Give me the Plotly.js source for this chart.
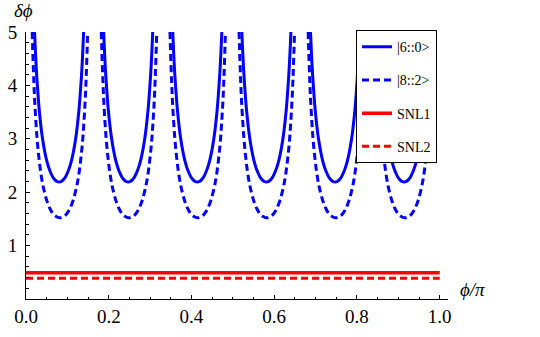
<!DOCTYPE html>
<html>
<head>
<meta charset="utf-8">
<script src="https://cdn.plot.ly/plotly-3.0.1.min.js"></script>
<style>
  html, body { margin: 0; padding: 0; background: #fff; }
  #plotDelta { width: 540px; height: 337px; }
</style>
</head>
<body>
<div id="plotDelta"></div>
<script>
// |6::0> : one U per lobe, lobes split by null (the curve leaves the plot above 5)
const phi60 = [
  0.0207, 0.022, 0.024, 0.026, 0.029, 0.032, 0.036, 0.040, 0.045, 0.050, 0.055, 0.060, 0.065, 0.070, 0.075, 0.080,
  0.085, 0.090, 0.095, 0.100, 0.105, 0.110, 0.115, 0.120, 0.124, 0.128, 0.131, 0.134, 0.136, 0.138, 0.1393, null,
  0.1877, 0.189, 0.191, 0.193, 0.196, 0.199, 0.203, 0.207, 0.212, 0.217, 0.222, 0.227, 0.232, 0.237, 0.242, 0.247,
  0.252, 0.257, 0.262, 0.267, 0.272, 0.277, 0.282, 0.287, 0.291, 0.295, 0.298, 0.301, 0.303, 0.305, 0.3063, null,
  0.3547, 0.356, 0.358, 0.360, 0.363, 0.366, 0.370, 0.374, 0.379, 0.384, 0.389, 0.394, 0.399, 0.404, 0.409, 0.414,
  0.419, 0.424, 0.429, 0.434, 0.439, 0.444, 0.449, 0.454, 0.458, 0.462, 0.465, 0.468, 0.470, 0.472, 0.4733, null,
  0.5217, 0.523, 0.525, 0.527, 0.530, 0.533, 0.537, 0.541, 0.546, 0.551, 0.556, 0.561, 0.566, 0.571, 0.576, 0.581,
  0.586, 0.591, 0.596, 0.601, 0.606, 0.611, 0.616, 0.621, 0.625, 0.629, 0.632, 0.635, 0.637, 0.639, 0.6403, null,
  0.6877, 0.689, 0.691, 0.693, 0.696, 0.699, 0.703, 0.707, 0.712, 0.717, 0.722, 0.727, 0.732, 0.737, 0.742, 0.747,
  0.752, 0.757, 0.762, 0.767, 0.772, 0.777, 0.782, 0.787, 0.791, 0.795, 0.798, 0.801, 0.803, 0.805, 0.8063, null,
  0.8547, 0.856, 0.858, 0.860, 0.863, 0.866, 0.870, 0.874, 0.879, 0.884, 0.889, 0.894, 0.899, 0.904, 0.909, 0.914,
  0.919, 0.924, 0.929, 0.934, 0.939, 0.944, 0.949, 0.954, 0.958, 0.962, 0.965, 0.968, 0.970, 0.972, 0.9733
];
const dphi60 = [
  5.0, 4.77, 4.44, 4.17, 3.83, 3.54, 3.24, 3.0, 2.77, 2.59, 2.46, 2.36, 2.28, 2.23, 2.20, 2.19,
  2.20, 2.23, 2.28, 2.36, 2.46, 2.59, 2.77, 3.0, 3.24, 3.54, 3.83, 4.17, 4.44, 4.77, 5.0, null,
  5.0, 4.77, 4.44, 4.17, 3.83, 3.54, 3.24, 3.0, 2.77, 2.59, 2.46, 2.36, 2.28, 2.23, 2.20, 2.19,
  2.20, 2.23, 2.28, 2.36, 2.46, 2.59, 2.77, 3.0, 3.24, 3.54, 3.83, 4.17, 4.44, 4.77, 5.0, null,
  5.0, 4.77, 4.44, 4.17, 3.83, 3.54, 3.24, 3.0, 2.77, 2.59, 2.46, 2.36, 2.28, 2.23, 2.20, 2.19,
  2.20, 2.23, 2.28, 2.36, 2.46, 2.59, 2.77, 3.0, 3.24, 3.54, 3.83, 4.17, 4.44, 4.77, 5.0, null,
  5.0, 4.77, 4.44, 4.17, 3.83, 3.54, 3.24, 3.0, 2.77, 2.59, 2.46, 2.36, 2.28, 2.23, 2.20, 2.19,
  2.20, 2.23, 2.28, 2.36, 2.46, 2.59, 2.77, 3.0, 3.24, 3.54, 3.83, 4.17, 4.44, 4.77, 5.0, null,
  5.0, 4.77, 4.44, 4.17, 3.83, 3.54, 3.24, 3.0, 2.77, 2.59, 2.46, 2.36, 2.28, 2.23, 2.20, 2.19,
  2.20, 2.23, 2.28, 2.36, 2.46, 2.59, 2.77, 3.0, 3.24, 3.54, 3.83, 4.17, 4.44, 4.77, 5.0, null,
  5.0, 4.77, 4.44, 4.17, 3.83, 3.54, 3.24, 3.0, 2.77, 2.59, 2.46, 2.36, 2.28, 2.23, 2.20, 2.19,
  2.20, 2.23, 2.28, 2.36, 2.46, 2.59, 2.77, 3.0, 3.24, 3.54, 3.83, 4.17, 4.44, 4.77, 5.0
];

// |8::2>
const phi82 = [
  0.015, 0.017, 0.019, 0.021, 0.024, 0.027, 0.031, 0.036, 0.042, 0.050, 0.058, 0.066, 0.074, 0.082,
  0.090, 0.098, 0.106, 0.114, 0.122, 0.128, 0.133, 0.137, 0.140, 0.143, 0.145, 0.147, 0.149, null,
  0.182, 0.184, 0.186, 0.188, 0.191, 0.194, 0.198, 0.203, 0.209, 0.217, 0.225, 0.233, 0.241, 0.249,
  0.257, 0.265, 0.273, 0.281, 0.289, 0.295, 0.300, 0.304, 0.307, 0.310, 0.312, 0.314, 0.316, null,
  0.348, 0.350, 0.352, 0.354, 0.357, 0.360, 0.364, 0.369, 0.375, 0.383, 0.391, 0.399, 0.407, 0.415,
  0.423, 0.431, 0.439, 0.447, 0.455, 0.461, 0.466, 0.470, 0.473, 0.476, 0.478, 0.480, 0.482, null,
  0.515, 0.517, 0.519, 0.521, 0.524, 0.527, 0.531, 0.536, 0.542, 0.550, 0.558, 0.566, 0.574, 0.582,
  0.590, 0.598, 0.606, 0.614, 0.622, 0.628, 0.633, 0.637, 0.640, 0.643, 0.645, 0.647, 0.649, null,
  0.682, 0.684, 0.686, 0.688, 0.691, 0.694, 0.698, 0.703, 0.709, 0.717, 0.725, 0.733, 0.741, 0.749,
  0.757, 0.765, 0.773, 0.781, 0.789, 0.795, 0.800, 0.804, 0.807, 0.810, 0.812, 0.814, 0.816, null,
  0.849, 0.851, 0.853, 0.855, 0.858, 0.861, 0.865, 0.870, 0.876, 0.884, 0.892, 0.900, 0.908, 0.916,
  0.924, 0.932, 0.940, 0.948, 0.956, 0.962, 0.967, 0.971, 0.974, 0.977, 0.979, 0.981, 0.983
];
const dphi82 = [
  5.0, 4.49, 4.06, 3.71, 3.31, 2.98, 2.66, 2.35, 2.09, 1.85, 1.69, 1.59, 1.54, 1.52,
  1.54, 1.59, 1.69, 1.85, 2.09, 2.35, 2.66, 2.98, 3.31, 3.71, 4.06, 4.49, 5.0, null,
  5.0, 4.49, 4.06, 3.71, 3.31, 2.98, 2.66, 2.35, 2.09, 1.85, 1.69, 1.59, 1.54, 1.52,
  1.54, 1.59, 1.69, 1.85, 2.09, 2.35, 2.66, 2.98, 3.31, 3.71, 4.06, 4.49, 5.0, null,
  5.0, 4.49, 4.06, 3.71, 3.31, 2.98, 2.66, 2.35, 2.09, 1.85, 1.69, 1.59, 1.54, 1.52,
  1.54, 1.59, 1.69, 1.85, 2.09, 2.35, 2.66, 2.98, 3.31, 3.71, 4.06, 4.49, 5.0, null,
  5.0, 4.49, 4.06, 3.71, 3.31, 2.98, 2.66, 2.35, 2.09, 1.85, 1.69, 1.59, 1.54, 1.52,
  1.54, 1.59, 1.69, 1.85, 2.09, 2.35, 2.66, 2.98, 3.31, 3.71, 4.06, 4.49, 5.0, null,
  5.0, 4.49, 4.06, 3.71, 3.31, 2.98, 2.66, 2.35, 2.09, 1.85, 1.69, 1.59, 1.54, 1.52,
  1.54, 1.59, 1.69, 1.85, 2.09, 2.35, 2.66, 2.98, 3.31, 3.71, 4.06, 4.49, 5.0, null,
  5.0, 4.49, 4.06, 3.71, 3.31, 2.98, 2.66, 2.35, 2.09, 1.85, 1.69, 1.59, 1.54, 1.52,
  1.54, 1.59, 1.69, 1.85, 2.09, 2.35, 2.66, 2.98, 3.31, 3.71, 4.06, 4.49, 5.0
];

// shot-noise limits
const snlPhi = [0, 1];
const snl1 = [0.49, 0.49];
const snl2 = [0.39, 0.39];

const xTicks = [0, 0.2, 0.4, 0.6, 0.8, 1.0];
const yTicks = [1, 2, 3, 4, 5];

const serif = "Liberation Serif";
const tickFont = { family: serif, size: 19, color: "#000" };

function drawDeltaPhi() {
  const plotDiv = document.getElementById("plotDelta");
  if (!plotDiv) return;

  const traces = [
    {
      x: phi60, y: dphi60, mode: "lines", name: "|6::0>",
      line: { color: "#0000ff", width: 3, shape: "spline" },
      connectgaps: false, legendgroup: "a",
    },
    {
      x: phi82, y: dphi82, mode: "lines", name: "|8::2>",
      line: { color: "#0000ff", width: 3, dash: "7px,4px", shape: "spline" },
      connectgaps: false, legendgroup: "b",
    },
    {
      x: snlPhi, y: snl1, mode: "lines", name: "SNL1",
      line: { color: "#ff0000", width: 3.5 },
      legendgroup: "c",
    },
    {
      x: snlPhi, y: snl2, mode: "lines", name: "SNL2",
      line: { color: "#ff0000", width: 3, dash: "7px,4px" },
      legendgroup: "d",
    },
  ];

  const layout = {
    width: 540,
    height: 337,
    paper_bgcolor: "#fff",
    plot_bgcolor: "#fff",
    margin: { l: 26, r: 92, t: 32, b: 38, autoexpand: false },
    font: { family: serif, size: 19, color: "#000" },
    showlegend: true,
    legend: {
      x: 0.782, xanchor: "left",
      y: 1.007, yanchor: "top",
      bgcolor: "#fff",
      bordercolor: "#000",
      borderwidth: 1,
      font: { family: serif, size: 14, color: "#000" },
      traceorder: "grouped",
      tracegroupgap: 12,
    },
    xaxis: {
      range: [0, 1.02],
      showgrid: false, zeroline: false,
      showline: true, linecolor: "#000", linewidth: 1,
      ticks: "inside", ticklen: 4, tickcolor: "#000",
      tickvals: xTicks, tickformat: ".1f",
      tickfont: tickFont,
      minor: { dtick: 0.05, ticks: "inside", ticklen: 2.5, tickcolor: "#000" },
      automargin: false,
      fixedrange: true,
    },
    yaxis: {
      range: [0, 5],
      showgrid: false, zeroline: false,
      showline: true, linecolor: "#000", linewidth: 1,
      ticks: "inside", ticklen: 4, tickcolor: "#000",
      tickvals: yTicks,
      tickfont: tickFont,
      ticklabelstandoff: 4,
      minor: { dtick: 0.2, ticks: "inside", ticklen: 2.5, tickcolor: "#000" },
      automargin: false,
      fixedrange: true,
    },
    annotations: [
      {
        text: "δϕ", xref: "paper", yref: "paper", x: -0.005, y: 1.079,
        showarrow: false, xanchor: "center", yanchor: "middle",
        font: { family: serif, size: 19, style: "italic" },
      },
      {
        text: "ϕ/π", xref: "paper", yref: "paper", x: 1.057, y: 0.034,
        showarrow: false, xanchor: "center", yanchor: "middle",
        font: { family: serif, size: 19, style: "italic" },
      },
    ],
  };

  Plotly.newPlot(plotDiv, traces, layout, { displayModeBar: false, staticPlot: true });
}

document.addEventListener("DOMContentLoaded", drawDeltaPhi);
</script>
</body>
</html>
